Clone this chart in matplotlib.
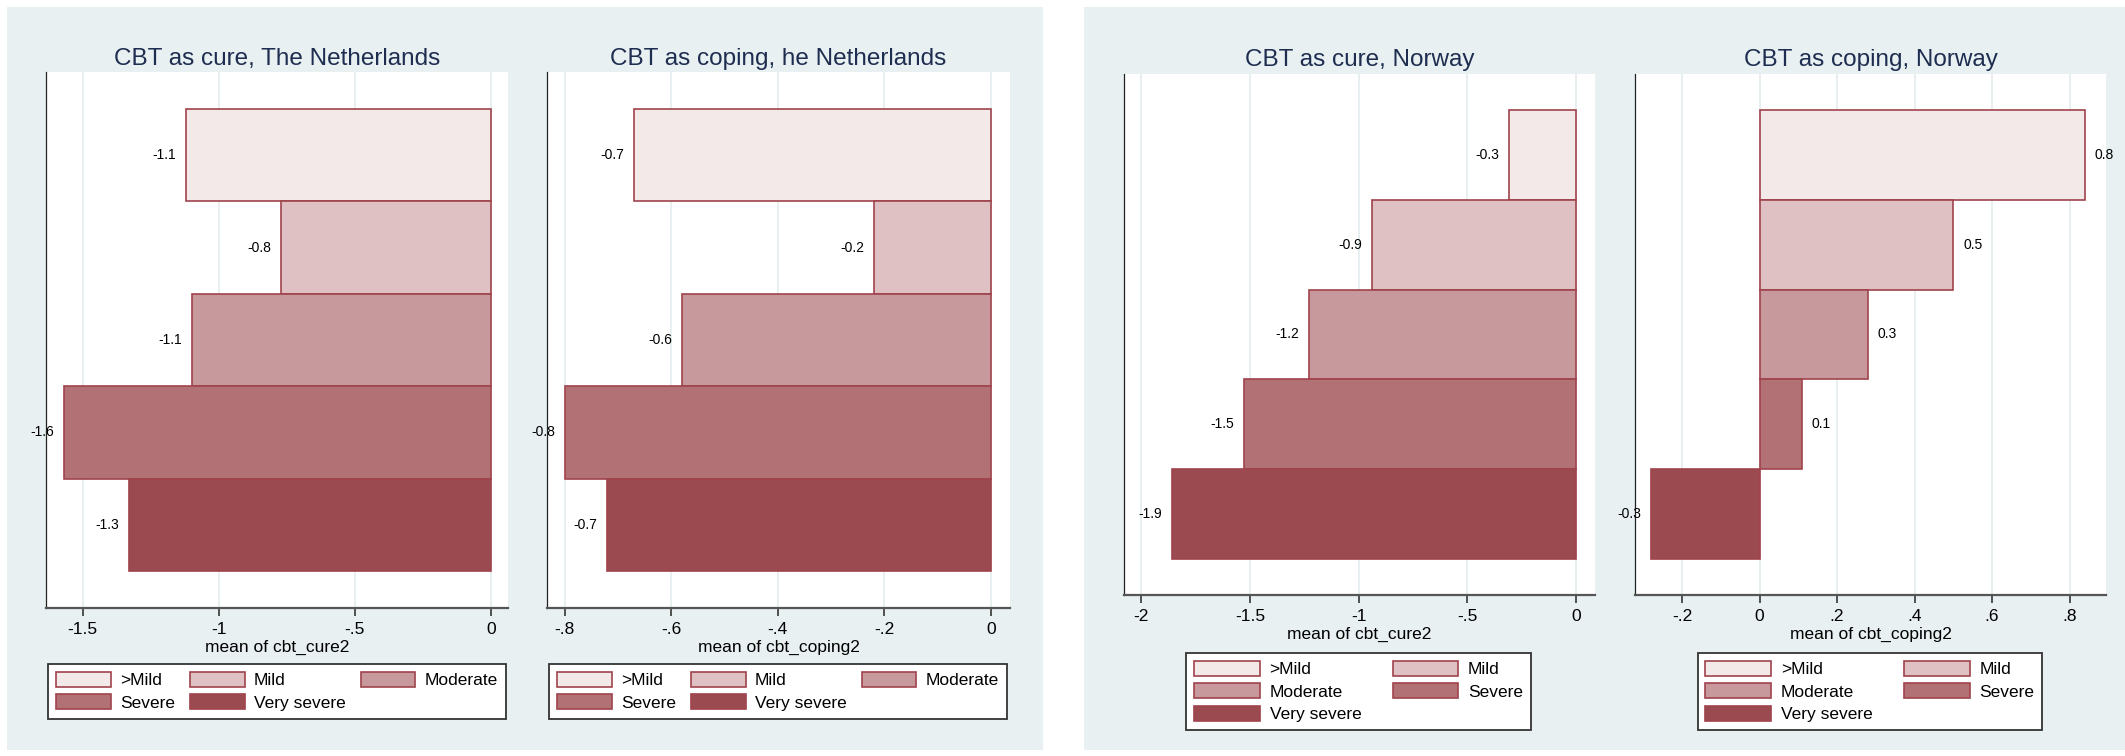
import matplotlib
matplotlib.use('Agg')
import matplotlib.pyplot as plt
from matplotlib.patches import Rectangle, Patch

plt.rcParams['font.family'] = ['Liberation Sans', 'DejaVu Sans']

# data
severity = ['>Mild', 'Mild', 'Moderate', 'Severe', 'Very severe']
nl_cure = [-1.12, -0.77, -1.10, -1.57, -1.33]
nl_coping = [-0.67, -0.22, -0.58, -0.80, -0.72]
no_cure = [-0.31, -0.94, -1.23, -1.53, -1.86]
no_coping = [0.84, 0.50, 0.28, 0.11, -0.28]

nl_cure_ticks = [-1.5, -1, -0.5, 0]
nl_coping_ticks = [-0.8, -0.6, -0.4, -0.2, 0]
no_cure_ticks = [-2, -1.5, -1, -0.5, 0]
no_coping_ticks = [-0.2, 0, 0.2, 0.4, 0.6, 0.8]

colors = ['#f3e9e9', '#dfc1c4', '#c8999c', '#b27174', '#9b4a50']
edge = '#a0434c'
bg = '#e8f0f2'
navy = '#1e2d50'

W, H = 2125, 756
fig = plt.figure(figsize=(W / 100, H / 100), dpi=100)
fig.patch.set_facecolor('white')

# graph region backgrounds
for x0, x1 in [(7, 1043), (1084, 2125)]:
    fig.add_artist(Rectangle((x0 / W, 1 - 750 / H), (x1 - x0) / W, 743 / H,
                             transform=fig.transFigure, facecolor=bg,
                             edgecolor='none', zorder=-10))


def stata_num(v):
    s = '%g' % v
    if s.startswith('0.'):
        s = s[1:]
    elif s.startswith('-0.'):
        s = '-' + s[2:]
    return s


def panel(box, vals, ticks, xlim, title, xlabel, title_pad):
    left, top, right, bottom = box
    ax = fig.add_axes([left / W, 1 - bottom / H, (right - left) / W, (bottom - top) / H])
    ax.set_facecolor('white')
    pos = list(range(len(vals)))
    ax.barh(pos, vals, height=1.0, color=colors, edgecolor=edge, linewidth=1.2, zorder=3)
    for p, v in zip(pos, vals):
        off = 7 if v > 0 else -7
        ax.annotate('%.1f' % v, (v, p), xytext=(off, 0), textcoords='offset points',
                    ha='left' if v > 0 else 'right', va='center', fontsize=10, zorder=4)
    ax.set_ylim(4.9, -0.9)
    ax.set_xlim(*xlim)
    ax.set_xticks(ticks)
    ax.set_xticklabels([stata_num(t) for t in ticks])
    ax.set_yticks([])
    ax.grid(axis='x', color='#e3ecee', linewidth=1.2, zorder=0)
    ax.tick_params(axis='x', direction='out', length=6, width=1.3, colors='#444',
                   labelcolor='black', labelsize=12.5, pad=4)
    for s in ['top', 'right']:
        ax.spines[s].set_visible(False)
    ax.spines['left'].set_color('#222')
    ax.spines['left'].set_linewidth(0.9)
    ax.spines['bottom'].set_color('#555')
    ax.spines['bottom'].set_linewidth(1.6)
    ax.set_xlabel(xlabel, fontsize=12.5, labelpad=2)
    ax.set_title(title, fontsize=17.5, color=navy, pad=title_pad)
    return ax


panel((46, 72, 508, 608), nl_cure, nl_cure_ticks, (-1.635, 0.0626),
      'CBT as cure, The Netherlands', 'mean of cbt_cure2', 5)
panel((547, 72, 1010, 608), nl_coping, nl_coping_ticks, (-0.833, 0.0355),
      'CBT as coping, he Netherlands', 'mean of cbt_coping2', 5)
panel((1124, 74, 1595, 595), no_cure, no_cure_ticks, (-2.08, 0.087),
      'CBT as cure, Norway', 'mean of cbt_cure2', 5.5)
panel((1635, 74, 2106, 595), no_coping, no_coping_ticks, (-0.3216, 0.894),
      'CBT as coping, Norway', 'mean of cbt_coping2', 5.5)


def legend(cx, top, ncol, order, hlen, colsp):
    handles = [Patch(facecolor=colors[i], edgecolor=edge, linewidth=1.2) for i in order]
    labels = [severity[i] for i in order]
    leg = fig.legend(handles, labels, loc='upper center', bbox_to_anchor=(cx / W, 1 - top / H),
                     bbox_transform=fig.transFigure, ncol=ncol, fontsize=12.5,
                     frameon=True, fancybox=False, framealpha=1, edgecolor='#333',
                     handlelength=hlen, handleheight=0.95, handletextpad=0.55,
                     columnspacing=colsp, labelspacing=0.35, borderpad=0.45, borderaxespad=0)
    leg.get_frame().set_linewidth(1.3)
    return leg


legend(277, 664, 3, [0, 3, 1, 4, 2], 3.15, 0.85)
legend(778, 664, 3, [0, 3, 1, 4, 2], 3.15, 0.85)
legend(1358.5, 653, 2, [0, 2, 4, 1, 3], 3.8, 1.8)
legend(1870, 653, 2, [0, 2, 4, 1, 3], 3.8, 1.8)

fig.savefig('out.png', dpi=100)
